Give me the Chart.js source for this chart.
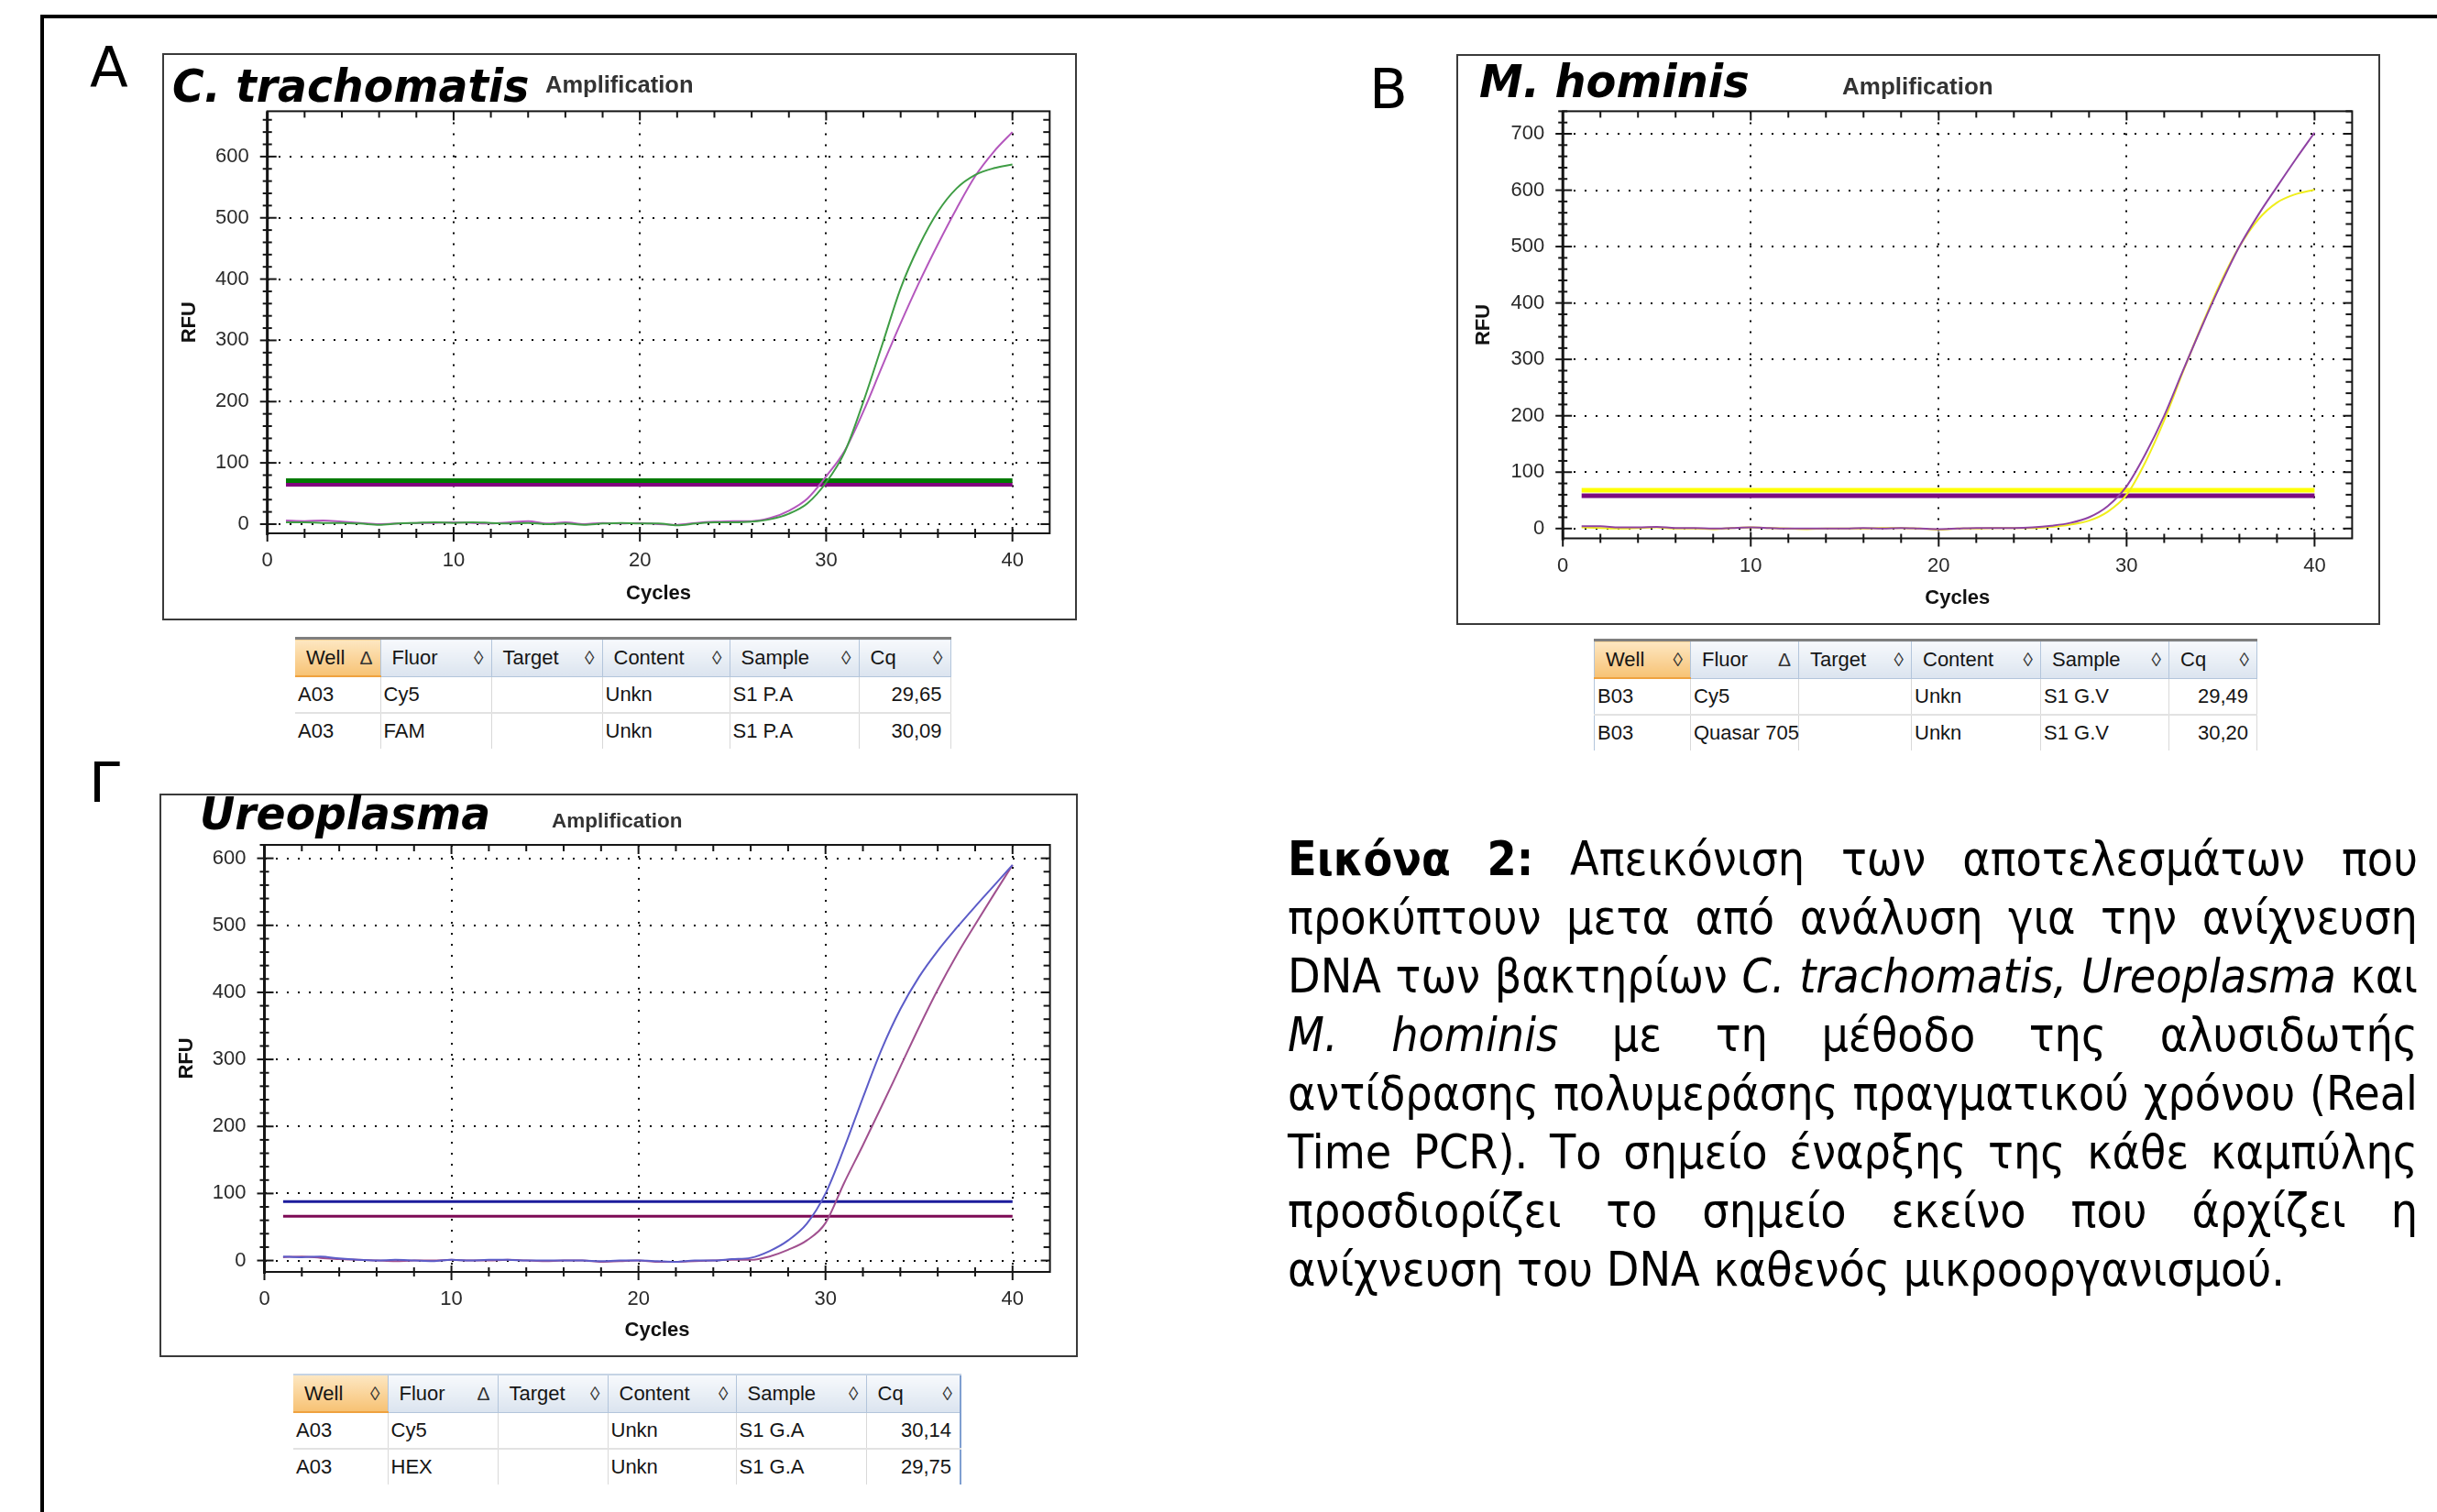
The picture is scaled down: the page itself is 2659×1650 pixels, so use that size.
<!DOCTYPE html>
<html lang="el">
<head>
<meta charset="utf-8">
<title>Εικόνα 2 - Real Time PCR</title>
<script src="https://cdn.jsdelivr.net/npm/chart.js@4.4.1/dist/chart.umd.min.js"></script>
<style>
  html, body { margin: 0; padding: 0; background: #fff; }
  body { position: relative; width: 2659px; height: 1650px; overflow: hidden; font-family: "DejaVu Sans", sans-serif; color: #000; }
  .rule { position: absolute; background: #000; }
  .letter { position: absolute; font-family: "DejaVu Sans"; font-size: 61px; line-height: 1; }
  .box { position: absolute; box-sizing: border-box; border: 2px solid #3a3a3a; background: #fff; }
  canvas { position: absolute; z-index: 1; }
  .species { position: absolute; z-index: 2; font-family: "DejaVu Sans"; font-weight: bold; font-style: italic; font-size: 49px; line-height: 1; white-space: nowrap; transform-origin: 0 0; }
  .amp { position: absolute; z-index: 2; font-family: "Liberation Sans"; font-weight: bold; line-height: 1; color: #333; white-space: nowrap; }

  table.rt { position: absolute; border-collapse: collapse; table-layout: fixed; font-family: "Liberation Sans", Arial, sans-serif; font-size: 22px; color: #151515; }
  table.rt th { height: 39px; padding: 0 8px 0 12px; font-weight: normal; text-align: left; background: linear-gradient(#f7f9fc, #dbe4ef); border-right: 1px solid #b3c5db; border-bottom: 1px solid #b3c5db; border-top: 3px solid #7f7f7f; }
  table.rt th.hot { background: linear-gradient(#fde7c2, #f7c274); border-bottom: 2px solid #efa23f; }
  table.rt th div { display: flex; justify-content: space-between; align-items: center; }
  table.rt th .sort { font-size: 21px; color: #333; }
  table.rt td { height: 38px; padding: 0 3px; border-right: 1px solid #d9d9d9; border-bottom: 2px solid #e2e2e2; white-space: nowrap; }
  table.rt tr:last-child td { border-bottom: none; }
  table.rt td.num { text-align: right; padding-right: 9px; }
  table.rt.soft th { border-top: 2px solid #c5d3e4; }

  #caption { position: absolute; left: 1405px; top: 906px; transform-origin: 0 0; font-family: "DejaVu Sans"; font-size: 51px; line-height: 64px; }
  .cap-line { display: flex; justify-content: space-between; white-space: nowrap; }
  .cap-line.last { display: block; width: max-content; }
</style>
</head>
<body>

<div class="rule" style="left:44px;top:16px;width:2615px;height:4px"></div>
<div class="rule" style="left:44px;top:16px;width:4px;height:1634px"></div>

<!-- A : C. trachomatis -->
<div class="letter" style="left:98px;top:42px">A</div>
<div class="box" style="left:177px;top:58px;width:998px;height:619px"></div>
<canvas id="chartCT" width="998" height="619" style="left:177px;top:58px"></canvas>
<div class="species" data-w="389" style="left:188px;top:70px">C. trachomatis</div>
<div class="amp" style="left:595px;top:80px;font-size:25.5px">Amplification</div>
<table class="rt" id="tableCT" style="left:322px;top:695px"></table>

<!-- B : M. hominis -->
<div class="letter" style="left:1494px;top:66px">B</div>
<div class="box" style="left:1589px;top:59px;width:1008px;height:623px"></div>
<canvas id="chartMH" width="1008" height="623" style="left:1589px;top:59px"></canvas>
<div class="species" data-w="295" style="left:1614px;top:65px">M. hominis</div>
<div class="amp" style="left:2010px;top:81px;font-size:26px">Amplification</div>
<table class="rt" id="tableMH" style="left:1739px;top:697px;border-left:1px solid #b3c5db"></table>

<!-- Γ : Ureoplasma -->
<div class="letter" style="left:97px;top:823px">Γ</div>
<div class="box" style="left:174px;top:866px;width:1002px;height:615px"></div>
<canvas id="chartUR" width="1002" height="615" style="left:174px;top:866px"></canvas>
<div class="species" data-w="317" style="left:218px;top:864px">Ureoplasma</div>
<div class="amp" style="left:602px;top:885px;font-size:22.5px">Amplification</div>
<table class="rt soft" id="tableUR" style="left:320px;top:1499px;border-right:2px solid #7f9fd0"></table>

<div id="caption"></div>

<script>
// --- Data ---
const cycles = [1, 2, 3, 4, 5, 6, 7, 8, 9, 10, 11, 12, 13, 14, 15, 16, 17, 18, 19, 20,
  21, 22, 23, 24, 25, 26, 27, 28, 29, 30, 31, 32, 33, 34, 35, 36, 37, 38, 39, 40];
const xTickLabels = [0, 10, 20, 30, 40];

// C. trachomatis, well A03
const ctCy5 = [6, 5, 6, 4, 2, 0, 1, 2, 2, 3, 2, 1, 3, 5, 1, 3, 0, 2, 1, 2, 0, -1, 2, 4, 5,
  5, 10, 22, 42, 78, 120, 184, 257, 328, 395, 457, 515, 568, 608, 640];
const ctFam = [3, 3, 2, 2, 1, -1, 1, 2, 3, 2, 3, 2, 1, 2, 0, 1, -1, 1, 2, 1, 1, -2, 1, 3, 3,
  4, 8, 17, 34, 68, 118, 200, 292, 385, 455, 510, 548, 570, 581, 587];
const ctThreshold = [65, 71]; // Cy5, FAM
const ctYTicks = [0, 100, 200, 300, 400, 500, 600];

// M. hominis, well B03
const mhCy5 = [4, 4, 2, 2, 3, 1, 1, 0, 1, 2, 1, 0, 0, 0, 0, 1, 0, 1, 0, -1, 0, 1, 1, 1, 2,
  5, 10, 20, 40, 75, 132, 200, 280, 358, 432, 500, 556, 606, 655, 702];
const mhQuasar = [2, 1, 0, 1, 2, 0, 0, -1, 1, 2, 1, 0, -1, 0, 0, 0, 1, 1, 0, -2, 0, 0, 1, 1, 1,
  3, 7, 14, 30, 60, 118, 192, 278, 360, 436, 500, 548, 578, 593, 601];
const mhThreshold = [58, 68]; // Cy5, Quasar 705
const mhYTicks = [0, 100, 200, 300, 400, 500, 600, 700];

// Ureoplasma, well A03
const urCy5 = [5, 6, 4, 2, 1, 0, -1, 0, 0, 1, 0, 0, 1, 0, -1, 0, 0, -2, -1, 0, -2, -2, -1, 0, 1,
  1, 6, 16, 30, 56, 116, 172, 230, 289, 348, 404, 455, 501, 546, 590];
const urHex = [6, 5, 6, 3, 1, 0, 1, 0, -1, 1, 0, 1, 1, 0, 0, 0, 0, -1, 0, 0, -1, -2, 0, 0, 2,
  4, 14, 30, 55, 100, 168, 243, 315, 375, 423, 462, 496, 528, 559, 590];
const urThreshold = [66, 88]; // Cy5, HEX
const urYTicks = [0, 100, 200, 300, 400, 500, 600];

// --- Result tables ---
const tableHead = ['Well', 'Fluor', 'Target', 'Content', 'Sample', 'Cq'];
const ctRows = [['A03', 'Cy5', '', 'Unkn', 'S1 P.A', '29,65'], ['A03', 'FAM', '', 'Unkn', 'S1 P.A', '30,09']];
const mhRows = [['B03', 'Cy5', '', 'Unkn', 'S1 G.V', '29,49'], ['B03', 'Quasar 705', '', 'Unkn', 'S1 G.V', '30,20']];
const urRows = [['A03', 'Cy5', '', 'Unkn', 'S1 G.A', '30,14'], ['A03', 'HEX', '', 'Unkn', 'S1 G.A', '29,75']];

const captionLines = [
  ['<b>Εικόνα</b>', '<b>2:</b>', 'Απεικόνιση', 'των', 'αποτελεσμάτων', 'που'],
  ['προκύπτουν', 'μετα', 'από', 'ανάλυση', 'για', 'την', 'ανίχνευση'],
  ['DNA', 'των', 'βακτηρίων', '<i>C.</i>', '<i>trachomatis,</i>', '<i>Ureoplasma</i>', 'και'],
  ['<i>M.</i>', '<i>hominis</i>', 'με', 'τη', 'μέθοδο', 'της', 'αλυσιδωτής'],
  ['αντίδρασης', 'πολυμεράσης', 'πραγματικού', 'χρόνου', '(Real'],
  ['Time', 'PCR).', 'Το', 'σημείο', 'έναρξης', 'της', 'κάθε', 'καμπύλης'],
  ['προσδιορίζει', 'το', 'σημείο', 'εκείνο', 'που', 'άρχίζει', 'η'],
  ['ανίχνευση', 'του', 'DNA', 'καθενός', 'μικροοργανισμού.']
];

Chart.defaults.font.family = '"Liberation Sans", Arial, sans-serif';
Chart.defaults.color = '#222';

// frame round the plot area, with the small cross ticks of the instrument software
const axisFrame = {
  id: 'axisFrame',
  afterDatasetsDraw(chart) {
    const { ctx, chartArea: a, scales: { x, y } } = chart;
    const seg = (x1, y1, x2, y2) => { ctx.beginPath(); ctx.moveTo(x1, y1); ctx.lineTo(x2, y2); ctx.stroke(); };
    ctx.save();
    ctx.strokeStyle = '#151515';
    ctx.lineWidth = 2;
    ctx.strokeRect(a.left, a.top, a.right - a.left, a.bottom - a.top);
    const lastX = xTickLabels[xTickLabels.length - 1];
    for (let v = 0; v <= lastX; v += 2) {
      const px = x.getPixelForValue(v);
      const major = v % 10 === 0;
      seg(px, a.bottom - (major ? 7 : 5), px, a.bottom + (major ? 9 : 5));
      seg(px, a.top, px, a.top + (major ? 10 : 7));
    }
    for (let v = 0; v <= y.max; v += 20) {
      const py = y.getPixelForValue(v);
      const major = v % 100 === 0;
      seg(a.left - (major ? 8 : 5), py, a.left + (major ? 10 : 5), py);
      seg(a.right - (major ? 10 : 7), py, a.right, py);
    }
    ctx.lineWidth = 3;
    seg(a.left, a.top, a.left, a.bottom + 2);
    ctx.restore();
  }
};

function curve(values, color) {
  return {
    data: cycles.map((c, i) => ({ x: c, y: values[i] })),
    borderColor: color,
    borderWidth: 2,
    pointRadius: 0,
    cubicInterpolationMode: 'monotone',
    order: 0
  };
}

function thresholdLine(level, color, width) {
  return {
    data: [{ x: cycles[0], y: level }, { x: cycles[cycles.length - 1], y: level }],
    borderColor: color,
    borderWidth: width,
    pointRadius: 0,
    order: 1
  };
}

function makeChart(id, datasets, yTicks, box) {
  new Chart(document.getElementById(id), {
    type: 'line',
    data: { datasets },
    plugins: [axisFrame],
    options: {
      responsive: false,
      animation: false,
      devicePixelRatio: 1,
      layout: { padding: { top: box.top, right: box.right, left: 0, bottom: 0 } },
      plugins: { legend: { display: false }, tooltip: { enabled: false } },
      scales: {
        x: {
          type: 'linear',
          min: 0,
          max: 42,
          afterBuildTicks: s => { s.ticks = xTickLabels.map(v => ({ value: v })); },
          afterFit: s => { s.height = box.bottom; },
          grid: { color: '#000', lineWidth: 2, drawTicks: false },
          border: { display: false, dash: [2, 10] },
          ticks: { padding: 17, font: { size: 22 }, color: '#2a2a2a', maxRotation: 0 },
          title: { display: true, text: 'Cycles', color: '#111', font: { size: 22, weight: 'bold' }, padding: { top: 0, bottom: 16 } }
        },
        y: {
          min: box.yMin,
          max: box.yMax,
          afterBuildTicks: s => { s.ticks = yTicks.map(v => ({ value: v })); },
          afterFit: s => { s.width = box.left; },
          grid: { color: '#000', lineWidth: 2, drawTicks: false },
          border: { display: false, dash: [2, 10] },
          ticks: { padding: 20, font: { size: 22 }, color: '#2a2a2a' },
          title: { display: true, text: 'RFU', color: '#111', font: { size: 22, weight: 'bold' }, padding: { top: 17, bottom: 0 } }
        }
      }
    }
  });
}

makeChart('chartCT', [
  curve(ctFam, '#3f9d45'),
  curve(ctCy5, '#b457bd'),
  thresholdLine(ctThreshold[1], '#007a00', 5),
  thresholdLine(ctThreshold[0], '#82037f', 5)
], ctYTicks, { left: 114.7, top: 63.4, right: 29.7, bottom: 95, yMin: -15, yMax: 674 });

makeChart('chartMH', [
  curve(mhCy5, '#8f42a3'),
  curve(mhQuasar, '#f0ee1c'),
  thresholdLine(mhThreshold[1], '#ffff00', 5),
  thresholdLine(mhThreshold[0], '#7b0a80', 5)
], mhYTicks, { left: 116.2, top: 62.4, right: 30.6, bottom: 94.5, yMin: -17.4, yMax: 740 });

makeChart('chartUR', [
  curve(urHex, '#5c5cc8'),
  curve(urCy5, '#a0508f'),
  thresholdLine(urThreshold[1], '#1c1c9c', 3),
  thresholdLine(urThreshold[0], '#7d0a55', 3)
], urYTicks, { left: 114.5, top: 56, right: 30.4, bottom: 93, yMin: -17, yMax: 620 });

// tables under each plot
function buildTable(id, rows, widths, sortedCol) {
  const table = document.getElementById(id);
  const cols = widths.map(w => `<col style="width:${w}px">`).join('');
  const head = tableHead.map((h, i) =>
    `<th class="${i === 0 ? 'hot' : ''}"><div><span>${h}</span><span class="sort">${i === sortedCol ? 'Δ' : '◊'}</span></div></th>`
  ).join('');
  const body = rows.map(r =>
    '<tr>' + r.map((c, i) => `<td class="${i === r.length - 1 ? 'num' : ''}">${c}</td>`).join('') + '</tr>'
  ).join('');
  table.style.width = widths.reduce((a, b) => a + b, 0) + 'px';
  table.innerHTML = `<colgroup>${cols}</colgroup><tr>${head}</tr>${body}`;
}

buildTable('tableCT', ctRows, [93, 121, 121, 139, 141, 100], 0);
buildTable('tableMH', mhRows, [105, 118, 123, 141, 140, 96], 1);
buildTable('tableUR', urRows, [103, 120, 120, 140, 142, 103], 1);

// species titles: fit the bold italic to the width of the original lettering
document.querySelectorAll('.species').forEach(el => {
  el.style.transform = `scaleX(${el.dataset.w / el.offsetWidth})`;
});

// caption, justified line by line as in the original
const caption = document.getElementById('caption');
captionLines.forEach((words, i) => {
  const line = document.createElement('div');
  const isLast = i === captionLines.length - 1;
  line.className = isLast ? 'cap-line last' : 'cap-line';
  line.innerHTML = words.map(w => `<span>${w}</span>`).join(isLast ? ' ' : '');
  caption.appendChild(line);
});
// squeeze DejaVu a little so the lines run like the narrower original face
const squeeze = 1088 / caption.lastChild.offsetWidth;
caption.style.width = (1233 / squeeze) + 'px';
caption.style.transform = `scaleX(${squeeze})`;
</script>
</body>
</html>
